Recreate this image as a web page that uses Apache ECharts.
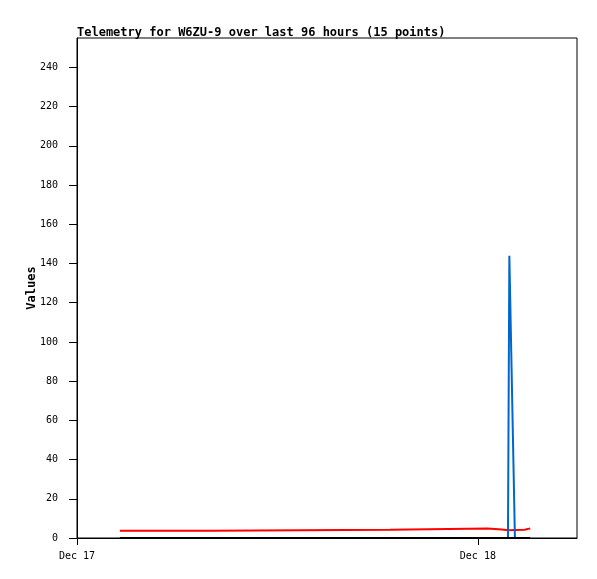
<!DOCTYPE html>
<html>
<head>
<meta charset="utf-8">
<script src="https://cdn.jsdelivr.net/npm/echarts@6/dist/echarts.min.js"></script>
<style>html,body{margin:0;padding:0;background:#fff}#c{width:597px;height:579px}</style>
</head>
<body>
<div id="c"></div>
<script>
const titleText = 'Telemetry for W6ZU-9 over last 96 hours (15 points)';
const times = ['2023-12-17T02:34Z','2023-12-17T08:01Z','2023-12-17T18:44Z','2023-12-18T00:35Z','2023-12-18T01:26Z','2023-12-18T01:48Z','2023-12-18T01:53Z','2023-12-18T02:13Z','2023-12-18T02:20Z','2023-12-18T02:48Z','2023-12-18T03:08Z'];
const redValues   = [3.7, 4.2, 4.8, 4.3, 3.9, 3.9, 4.1, 3.9, 4.2, 4.9, 4.9];
const blueValues  = [0, 0, 0, 0, 0, 0, 144, 0, 0, 0, 0];
const blackValues = [0, 0, 0, 0, 0, 0, 0, 0, 0, 0, 0];
const yTicks = [0,20,40,60,80,100,120,140,160,180,200,220,240];
const xTickDates = ['2023-12-17T00:00Z','2023-12-18T00:00Z'];
const xTickLabels = ['Dec 17','Dec 18'];
const xStart = '2023-12-17T00:00Z';
const xEnd = '2023-12-18T05:56Z';

const t = times.map(s => Date.parse(s));
const xTicks = xTickDates.map(s => Date.parse(s));
const pair = vals => t.map((x, i) => [x, vals[i]]);
const mono = '"DejaVu Sans Mono", "Liberation Mono", monospace';

const chart = echarts.init(document.getElementById('c'), null, {renderer: 'canvas'});
chart.setOption({
  animation: false,
  backgroundColor: '#fff',
  title: {
    text: titleText, left: 77, top: 27, padding: 0,
    textStyle: {fontFamily: mono, fontSize: 12, fontWeight: 'bold', color: '#000'}
  },
  grid: {left: 77, top: 38, right: 20, bottom: 41, show: true, borderColor: '#000', borderWidth: 1, containLabel: false},
  xAxis: {
    type: 'value', min: Date.parse(xStart), max: Date.parse(xEnd),
    splitLine: {show: false},
    axisLine: {show: true, lineStyle: {color: '#000', width: 1}},
    axisTick: {show: true, length: 7, customValues: xTicks, lineStyle: {color: '#000'}},
    axisLabel: {
      customValues: xTicks, margin: 13, color: '#000', fontFamily: mono, fontSize: 10,
      formatter: v => { const i = xTicks.indexOf(v); return i >= 0 ? xTickLabels[i] : ''; }
    }
  },
  yAxis: {
    type: 'value', min: 0, max: 255,
    name: 'Values', nameLocation: 'middle', nameRotate: 90, nameGap: 39, nameMoveOverlap: false,
    nameTextStyle: {fontFamily: mono, fontSize: 12, fontWeight: 'bold', color: '#000'},
    splitLine: {show: false},
    axisLine: {show: true, lineStyle: {color: '#000', width: 1}},
    axisTick: {show: true, length: 8, customValues: yTicks, lineStyle: {color: '#000'}},
    axisLabel: {customValues: yTicks, margin: 19, color: '#000', fontFamily: mono, fontSize: 10, padding: [3, 0, 0, 0]}
  },
  series: [
    {type: 'line', data: pair(redValues), step: 'end', showSymbol: false, lineStyle: {color: '#ff0000', width: 2}, itemStyle: {color: '#ff0000'}},
    {type: 'line', data: pair(blueValues), showSymbol: false, lineStyle: {color: '#0066cc', width: 2}, itemStyle: {color: '#0066cc'}},
    {type: 'line', data: pair(blackValues), step: 'end', showSymbol: false, lineStyle: {color: '#000000', width: 2}, itemStyle: {color: '#000'}}
  ]
});
</script>
</body>
</html>
